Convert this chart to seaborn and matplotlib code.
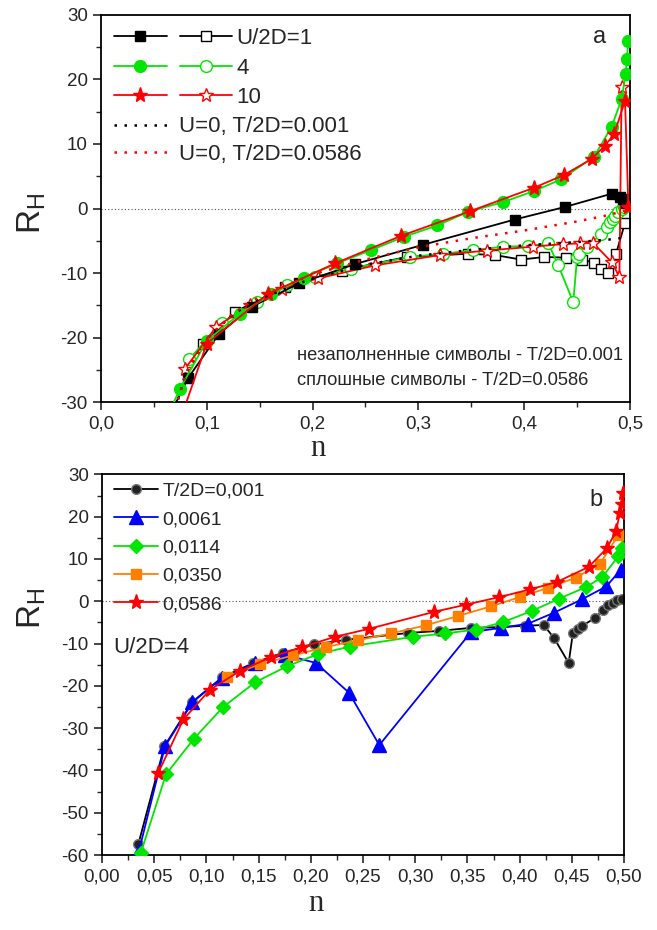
import seaborn as sns
import matplotlib.pyplot as plt
from matplotlib.legend_handler import HandlerTuple
from matplotlib.ticker import MultipleLocator, FuncFormatter

# --- Panel a data: R_H vs n for U/2D = 1, 4, 10 (filled: T/2D=0.0586, open: T/2D=0.001) ---
n_u1_fill = [0.068, 0.0825, 0.1115, 0.1424, 0.1874, 0.240, 0.3046, 0.391, 0.4386, 0.4827, 0.4905, 0.4937, 0.496]
r_u1_fill = [-31.0, -26.2, -19.4, -15.2, -11.6, -8.6, -5.6, -1.7, 0.25, 2.3, 1.75, 1.55, 0.8]
n_u1_open = [0.0967, 0.1267, 0.174, 0.2275, 0.289, 0.3466, 0.3724, 0.397, 0.419, 0.4395, 0.455, 0.466,
             0.4723, 0.4795, 0.4868, 0.4953]
r_u1_open = [-20.9, -16.0, -12.1, -9.6, -7.5, -7.0, -7.2, -7.9, -7.5, -7.6, -7.9, -8.4, -9.3, -10.0, -7.0, -2.2]

n_u4_fill = [0.066, 0.0747, 0.0999, 0.131, 0.161, 0.192, 0.2228, 0.255, 0.286, 0.318, 0.347, 0.380, 0.409,
             0.4345, 0.466, 0.4827, 0.492, 0.496, 0.497, 0.4985]
r_u4_fill = [-31.0, -27.9, -20.5, -16.3, -13.3, -10.7, -8.5, -6.45, -4.4, -2.6, -0.5, 1.0, 2.7, 4.5, 8.0,
             12.7, 16.9, 20.9, 23.2, 26.0]
n_u4_open = [0.0835, 0.114, 0.147, 0.1755, 0.202, 0.236, 0.292, 0.3235, 0.352, 0.380, 0.404, 0.4228, 0.432,
             0.4464, 0.450, 0.452, 0.4597, 0.473, 0.478, 0.481, 0.4835, 0.486, 0.489, 0.492, 0.4945]
r_u4_open = [-23.3, -17.7, -14.5, -11.9, -10.6, -9.3, -7.5, -7.0, -6.45, -5.9, -5.8, -5.4, -8.7, -14.5, -7.5,
             -7.0, -5.9, -3.9, -2.85, -2.1, -1.6, -1.1, -0.6, -0.1, 0.3]

n_u10_fill = [0.0775, 0.1, 0.158, 0.2212, 0.284, 0.349, 0.409, 0.4376, 0.464, 0.476, 0.485, 0.4953, 0.4985]
r_u10_fill = [-31.5, -20.9, -13.2, -8.5, -4.2, -0.4, 3.2, 5.2, 7.7, 9.7, 11.5, 16.7, 0.3]
n_u10_open = [0.0794, 0.109, 0.141, 0.171, 0.2055, 0.259, 0.3204, 0.365, 0.408, 0.437, 0.4527, 0.465, 0.4827,
              0.49, 0.4921]
r_u10_open = [-24.8, -18.3, -14.9, -12.4, -10.8, -8.8, -7.2, -6.5, -5.9, -5.5, -5.4, -5.3, -8.3, -10.6, 18.8]

# U=0 reference curves
n_u0 = [0.065, 0.08, 0.1, 0.125, 0.15, 0.2, 0.25, 0.3, 0.35, 0.4, 0.45, 0.48, 0.495]
r_u0_t001 = [-34.0, -25.5, -20.2, -16.3, -14.0, -10.8, -8.7, -7.3, -6.4, -5.7, -5.2, -4.8, -4.5]
r_u0_t0586 = [-34.0, -25.5, -20.2, -16.2, -13.6, -10.2, -7.9, -6.0, -4.6, -3.4, -2.0, -1.0, -0.3]

# --- Panel b data: U/2D=4, different temperatures ---
n_t001 = [0.0348, 0.0597, 0.0865, 0.115, 0.145, 0.173, 0.203, 0.234, 0.293, 0.323, 0.353, 0.381, 0.405,
          0.423, 0.433, 0.447, 0.451, 0.456, 0.460, 0.4725, 0.480, 0.485, 0.489, 0.493, 0.498]
r_t001 = [-57.4, -34.3, -23.8, -18.0, -14.6, -12.2, -10.2, -9.1, -7.5, -7.0, -6.3, -6.1, -5.8, -5.6, -8.7,
          -14.6, -7.5, -6.5, -5.8, -3.9, -2.0, -0.9, -0.4, 0.2, 0.6]
n_t0061 = [0.0354, 0.0603, 0.0865, 0.115, 0.147, 0.175, 0.205, 0.2365, 0.2656, 0.3534, 0.382, 0.408, 0.433,
           0.460, 0.483, 0.497]
r_t0061 = [-59.0, -34.3, -23.9, -18.1, -14.6, -12.6, -14.6, -21.6, -34.0, -7.3, -6.3, -5.3, -2.7, 0.5, 3.5, 7.5]
n_t0114 = [0.037, 0.0613, 0.088, 0.116, 0.147, 0.177, 0.2066, 0.2375, 0.298, 0.3285, 0.358, 0.3844, 0.4116,
           0.4377, 0.464, 0.479, 0.4945, 0.4978]
r_t0114 = [-59.6, -40.9, -32.5, -25.0, -19.1, -15.4, -12.5, -10.7, -8.4, -7.6, -6.7, -4.9, -2.3, 0.6, 3.4,
           5.7, 10.6, 12.5]
n_t0350 = [0.12, 0.151, 0.183, 0.215, 0.2455, 0.277, 0.310, 0.3407, 0.3726, 0.4004, 0.4275, 0.454, 0.477, 0.4945]
r_t0350 = [-17.8, -14.9, -12.8, -10.8, -9.2, -7.6, -5.7, -3.5, -1.2, 1.0, 3.2, 5.6, 8.9, 15.6]
n_t0586 = [0.054, 0.078, 0.1034, 0.132, 0.1616, 0.192, 0.223, 0.256, 0.318, 0.3487, 0.3806, 0.41, 0.436,
           0.466, 0.4834, 0.4923, 0.496, 0.4978, 0.4987]
r_t0586 = [-40.5, -27.9, -20.9, -16.5, -13.2, -10.8, -8.4, -6.5, -2.5, -0.8, 1.0, 2.8, 4.6, 8.1, 12.5, 16.5,
           20.9, 23.1, 25.5]

GREEN = '#00e600'
RED = '#ff0000'
BLUE = '#0000ff'
ORANGE = '#ff8000'

sns.set_style("ticks")
plt.rcParams['font.family'] = ['Liberation Sans', 'DejaVu Sans']
plt.rcParams['axes.unicode_minus'] = False


def draw(ax, n, r, color, marker=None, filled=True, ms=8, ls='-', lw=1.3, z=2, face=None):
    kw = {}
    if marker is not None:
        kw = dict(marker=marker, markersize=ms, markeredgecolor=color, markeredgewidth=1.0,
                  markerfacecolor=(face if face else (color if filled else 'white')))
    sns.lineplot(x=n, y=r, ax=ax, sort=False, estimator=None, color=color, linestyle=ls,
                 linewidth=lw, zorder=z, **kw)
    return ax.lines[-1]


fig = plt.figure(figsize=(6.57, 9.30), dpi=100)
ax_a = fig.add_axes([0.1537, 0.5674, 0.8052, 0.4167])
ax_b = fig.add_axes([0.1553, 0.0806, 0.7945, 0.4093])

# --- Panel a ---
l_u1o = draw(ax_a, n_u1_open, r_u1_open, 'black', 's', False, 7.5, z=2)
l_u4o = draw(ax_a, n_u4_open, r_u4_open, GREEN, 'o', False, 8.5, z=2)
l_u10o = draw(ax_a, n_u10_open, r_u10_open, RED, '*', False, 10, z=2)
l_u1f = draw(ax_a, n_u1_fill, r_u1_fill, 'black', 's', True, 7.5, z=3)
l_u4f = draw(ax_a, n_u4_fill, r_u4_fill, GREEN, 'o', True, 8.5, z=3)
l_u10f = draw(ax_a, n_u10_fill, r_u10_fill, RED, '*', True, 11, z=4)
l_d1 = draw(ax_a, n_u0, r_u0_t001, 'black', ls=(0, (1, 3)), lw=1.8, z=5)
l_d2 = draw(ax_a, n_u0, r_u0_t0586, RED, ls=(0, (1, 3)), lw=1.8, z=5)
ax_a.axhline(0, color='#555555', ls=(0, (1, 2)), lw=0.8, zorder=1)

ax_a.set_xlim(0, 0.5)
ax_a.set_ylim(-30, 30)
ax_a.xaxis.set_major_locator(MultipleLocator(0.1))
ax_a.xaxis.set_minor_locator(MultipleLocator(0.05))
ax_a.yaxis.set_major_locator(MultipleLocator(10))
ax_a.yaxis.set_minor_locator(MultipleLocator(5))
ax_a.xaxis.set_major_formatter(FuncFormatter(lambda v, p: f"{v:.1f}".replace('.', ',')))

leg1 = ax_a.legend([(l_u1f, l_u1o), (l_u4f, l_u4o), (l_u10f, l_u10o)], ['U/2D=1', '4', '10'],
                   handler_map={tuple: HandlerTuple(ndivide=None, pad=0.6)},
                   loc='upper left', bbox_to_anchor=(0.0, 1.0), frameon=False, fontsize=16,
                   handlelength=5.3, handletextpad=0.2, labelspacing=0.38, borderaxespad=0.2,
                   numpoints=1)
ax_a.add_artist(leg1)
ax_a.legend([l_d1, l_d2], ['U=0, T/2D=0.001', 'U=0, T/2D=0.0586'], loc='upper left',
            bbox_to_anchor=(0.0, 0.772), frameon=False, fontsize=16, handlelength=2.6,
            handletextpad=0.3, labelspacing=0.3, borderaxespad=0.2)

ax_a.text(0.943, 0.943, 'a', transform=ax_a.transAxes, fontsize=17, ha='center', va='center')
ax_a.text(0.3705, 0.122, 'незаполненные символы - T/2D=0.001', transform=ax_a.transAxes,
          fontsize=13.2, ha='left', va='center')
ax_a.text(0.3705, 0.056, 'сплошные символы - T/2D=0.0586', transform=ax_a.transAxes,
          fontsize=13.2, ha='left', va='center')
ax_a.set_ylabel(r'$\mathregular{R_H}$', fontsize=24)
ax_a.yaxis.set_label_coords(-0.1, 0.4885)
ax_a.set_xlabel('n', fontsize=22, fontfamily='Liberation Serif')
ax_a.xaxis.set_label_coords(0.41, -0.082)

# --- Panel b ---
l_b1 = draw(ax_b, n_t001, r_t001, 'black', 'o', True, 7, z=2, face='#222222')
l_b1.set_markeredgecolor('#777777')
l_b2 = draw(ax_b, n_t0061, r_t0061, BLUE, '^', True, 9.5, z=3)
l_b3 = draw(ax_b, n_t0114, r_t0114, GREEN, 'D', True, 7.5, z=3)
l_b4 = draw(ax_b, n_t0350, r_t0350, ORANGE, 's', True, 7.5, z=3)
l_b5 = draw(ax_b, n_t0586, r_t0586, RED, '*', True, 11, z=4)
ax_b.axhline(0, color='#555555', ls=(0, (1, 2)), lw=0.8, zorder=1)

ax_b.set_xlim(0, 0.5)
ax_b.set_ylim(-60, 30)
ax_b.xaxis.set_major_locator(MultipleLocator(0.05))
ax_b.xaxis.set_minor_locator(MultipleLocator(0.025))
ax_b.yaxis.set_major_locator(MultipleLocator(10))
ax_b.yaxis.set_minor_locator(MultipleLocator(5))
ax_b.xaxis.set_major_formatter(FuncFormatter(lambda v, p: f"{v:.2f}".replace('.', ',')))

ax_b.legend([l_b1, l_b2, l_b3, l_b4, l_b5], ['T/2D=0,001', '0,0061', '0,0114', '0,0350', '0,0586'],
            loc='upper left', bbox_to_anchor=(0.0, 1.01), frameon=False, fontsize=14,
            handlelength=2.3, handletextpad=0.2, labelspacing=0.55, borderaxespad=0.2, numpoints=1)
ax_b.text(0.946, 0.933, 'b', transform=ax_b.transAxes, fontsize=17, ha='center', va='center')
ax_b.text(0.021, 0.544, 'U/2D=4', transform=ax_b.transAxes, fontsize=16, ha='left', va='center')
ax_b.set_ylabel(r'$\mathregular{R_H}$', fontsize=24)
ax_b.yaxis.set_label_coords(-0.103, 0.649)
ax_b.set_xlabel('n', fontsize=22, fontfamily='Liberation Serif')
ax_b.xaxis.set_label_coords(0.41, -0.09)

for ax in (ax_a, ax_b):
    ax.tick_params(which='major', direction='out', length=6, width=1.2, labelsize=13.5,
                   top=False, right=False)
    ax.tick_params(which='minor', direction='out', length=3.5, width=1.0, top=False, right=False)
    for sp in ax.spines.values():
        sp.set_linewidth(1.3)
        sp.set_color('black')

fig.savefig("out.png", dpi=100)
